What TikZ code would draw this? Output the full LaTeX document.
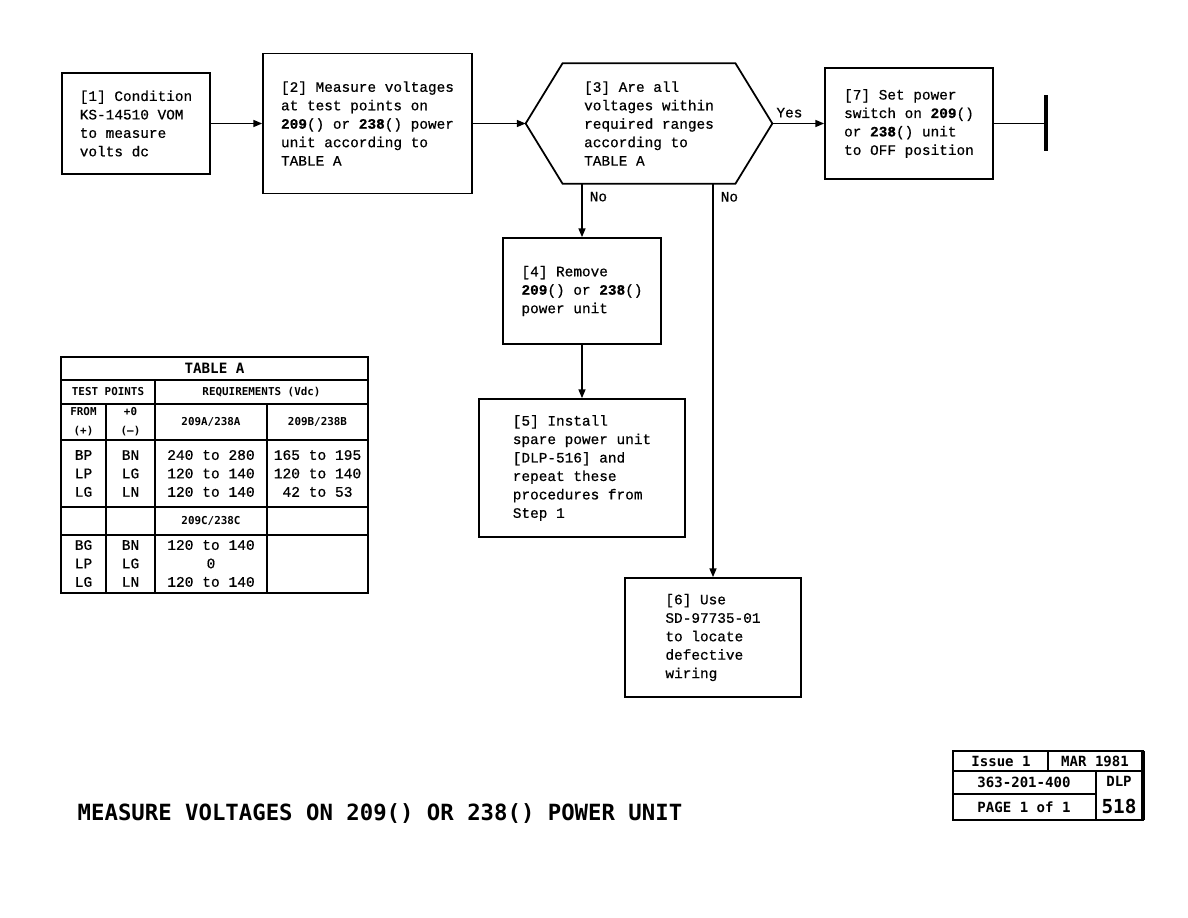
\documentclass[tikz,border=0pt]{standalone}
\usepackage{fontspec}
\usetikzlibrary{arrows.meta, positioning}
\newfontfamily\stepfont{Liberation Mono}[FakeBold=0.6]
\newfontfamily\headfont{DejaVu Sans Mono}
\newcommand\pxu{0.02cm}
\newcommand\bnum[1]{\textbf{#1}}
\tikzset{
  stepbox/.style={rectangle, draw, line width=1pt, align=left, inner sep=0pt,
                  font=\stepfont\fontsize{8.2}{10.5}\selectfont},
  steptext/.style={align=left, inner sep=0pt,
                   font=\stepfont\fontsize{8.2}{10.5}\selectfont},
  arrow/.style={-{Triangle[length=5pt, width=4pt]}, line width=0.8pt},
  grid/.style={line width=0.9pt},
  headtxt/.style={font=\headfont\bfseries\fontsize{6.2}{10.8}\selectfont,
                  align=center, inner sep=0pt},
  celltxt/.style={font=\stepfont\fontsize{8.3}{10.5}\selectfont,
                  align=center, inner sep=0pt},
  foot/.style={font=\headfont\bfseries\fontsize{8}{10}\selectfont, inner sep=0pt},
}

\begin{document}
\begin{tikzpicture}[x=0.02cm, y=-0.02cm]
  \useasboundingbox (0,0) rectangle (1188,918);

  % flow steps
  \node[stepbox, minimum width=148*\pxu, minimum height=101*\pxu] (s1) at (136,123.5)
    {[1] Condition\\KS-14510 VOM\\to measure\\volts dc};
  \node[stepbox, minimum width=209*\pxu, minimum height=140*\pxu] (s2) at (367.5,123.5)
    {[2] Measure voltages\\at test points on\\\bnum{209}() or \bnum{238}() power\\unit according to\\TABLE A};
  \node[steptext, minimum width=246*\pxu, minimum height=120*\pxu] (s3) at (649,123.5)
    {[3] Are all\\voltages within\\required ranges\\according to\\TABLE A};
  \draw[line width=1pt] (s3.west) -- ([xshift=37*\pxu]s3.north west)
    -- ([xshift=-37*\pxu]s3.north east) -- (s3.east)
    -- ([xshift=-37*\pxu]s3.south east) -- ([xshift=37*\pxu]s3.south west) -- cycle;
  \node[stepbox, minimum width=168*\pxu, minimum height=111*\pxu] (s7) at (909,123.5)
    {[7] Set power\\switch on \bnum{209}()\\or \bnum{238}() unit\\to OFF position};
  \node[stepbox, minimum width=158*\pxu, minimum height=106*\pxu] (s4) at (582,291)
    {[4] Remove\\\bnum{209}() or \bnum{238}()\\power unit};
  \node[stepbox, minimum width=206*\pxu, minimum height=138*\pxu] (s5) at (582,468)
    {[5] Install\\spare power unit\\{[DLP-516]} and\\repeat these\\procedures from\\Step 1};
  \node[stepbox, minimum width=176*\pxu, minimum height=119*\pxu] (s6) at (713,637.5)
    {[6] Use\\SD-97735-01\\to locate\\defective\\wiring};
  \coordinate (stop) at (1046,123.5);

  \draw[arrow] (s1.east) -- (s1.east -| s2.west);
  \draw[arrow] (s2.east) -- (s3.west);
  \draw[arrow] (s3.east) -- node[steptext, above=3pt, pos=0.33] (yes) {Yes} (s7.west);
  \draw[arrow] (s4.north |- s3.south) -- node[steptext, right=4pt, pos=0.24] (no1) {No} (s4.north);
  \draw[arrow] (s6.north |- s3.south) -- node[steptext, right=4pt, pos=0.033] (no2) {No} (s6.north);
  \draw[arrow] (s4) -- (s5);
  \draw[line width=0.8pt] (s7.east) -- (stop);
  \draw[line width=2.2pt] ([yshift=28*\pxu]stop) -- ([yshift=-28*\pxu]stop);

  % table A
  \draw[grid] (61,357) rectangle (368,593);
  \draw[grid] (61,380) -- (368,380) (61,404) -- (368,404) (61,440) -- (368,440)
    (61,507) -- (368,507) (61,535) -- (368,535);
  \draw[grid] (155,380) -- (155,593) (106,404) -- (106,593) (267,404) -- (267,593);
  \node[headtxt, font=\headfont\bfseries\fontsize{8.1}{10}\selectfont] (ta) at (214.5,368.5) {TABLE A};
  \node[headtxt] (tpts) at (108,392) {TEST POINTS};
  \node[headtxt] (treq) at (261.5,392) {REQUIREMENTS (Vdc)};
  \node[headtxt] (tfrom) at (83.5,421.5) {FROM\\(+)};
  \node[headtxt] (tto) at (130.5,421.5) {+0\\(–)};
  \node[headtxt] (tab) at (211,422) {209A/238A};
  \node[headtxt] (tbb) at (317.5,422) {209B/238B};
  \node[headtxt] (tcc) at (211,521) {209C/238C};
  \node[celltxt] (fr1) at (83.5,473.5) {BP\\LP\\LG};
  \node[celltxt] (to1) at (130.5,473.5) {BN\\LG\\LN};
  \node[celltxt] (va1) at (211,473.5) {240 to 280\\120 to 140\\120 to 140};
  \node[celltxt] (vb1) at (317.5,473.5) {165 to 195\\120 to 140\\42 to 53};
  \node[celltxt] (fr2) at (83.5,563.5) {BG\\LP\\LG};
  \node[celltxt] (to2) at (130.5,563.5) {BN\\LG\\LN};
  \node[celltxt] (vc2) at (211,563.5) {120 to 140\\0\\120 to 140};

  % title and page block
  \node[inner sep=0pt, font=\headfont\bfseries\fontsize{12.7}{14}\selectfont] (title) at (380,814)
    {MEASURE VOLTAGES ON 209() OR 238() POWER UNIT};
  \draw[grid] (953,751) rectangle (1143,820);
  \draw[line width=1.8pt] (1143,751) -- (1143,820);
  \draw[grid] (953,771) -- (1143,771) (953,794) -- (1096,794)
    (1048,751) -- (1048,771) (1096,771) -- (1096,820);
  \node[foot] (issue) at (1001,761) {Issue 1};
  \node[foot] (date) at (1095,761) {MAR 1981};
  \node[foot] (docno) at (1024,782.5) {363-201-400};
  \node[foot] (dlp) at (1119,781) {DLP};
  \node[foot] (page) at (1024,807) {PAGE 1 of 1};
  \node[foot, font=\headfont\bfseries\fontsize{11}{13}\selectfont] (dlpno) at (1119,806) {518};
\end{tikzpicture}
\end{document}
